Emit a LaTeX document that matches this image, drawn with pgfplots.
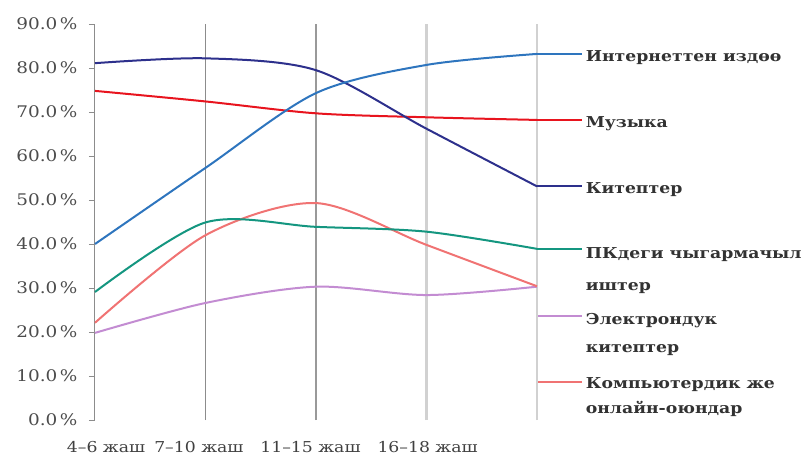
\documentclass[border=0pt]{standalone}
\usepackage{fontspec}
\setmainfont[FakeStretch=1.15]{DejaVu Serif}
\usepackage{pgfplots}
\pgfplotsset{compat=1.18}

\definecolor{cinet}{RGB}{46,117,190}
\definecolor{cbook}{RGB}{45,48,140}
\definecolor{cmus}{RGB}{232,20,30}
\definecolor{cpk}{RGB}{20,150,128}
\definecolor{cgame}{RGB}{240,115,115}
\definecolor{cebook}{RGB}{195,140,210}
\definecolor{ctxt}{RGB}{50,50,50}

\begin{document}
\begin{tikzpicture}
\useasboundingbox (-95bp,-39bp) rectangle (709bp,420bp);
\begin{axis}[
    scale only axis,
    width=442bp, height=396bp,
    xmin=0, xmax=4, ymin=0, ymax=90,
    clip=false,
    axis y line*=left,
    axis x line*=bottom,
    x axis line style={draw=none},
    y axis line style={-, draw=black!45, line width=1bp},
    ytick={0,10,...,90},
    ytick style={draw=black!45, line width=1bp},
    major tick length=6bp,
    tick align=outside,
    /pgf/number format/assume math mode=true,
    yticklabel={\pgfmathprintnumber[fixed,fixed zerofill,precision=1]{\tick}\,\%},
    yticklabel style={font=\fontsize{16bp}{19bp}\selectfont, text=black!70, xshift=-8bp},
    xtick={0.1,0.94,1.95,3.01},
    xticklabels={4–6 жаш, 7–10 жаш, 11–15 жаш, 16–18 жаш},
    xtick style={draw=none},
    xticklabel style={font=\fontsize{15bp}{18bp}\selectfont, text=black!75, yshift=-12bp},
    every axis plot/.append style={line width=2bp},
]
% vertical grid lines
\addplot[forget plot, black!45, line width=1.2bp] coordinates {(1,0)(1,90)};
\addplot[forget plot, black!40, line width=1.2bp] coordinates {(2,0)(2,90)};
\addplot[forget plot, black!18, line width=2.6bp] coordinates {(3,0)(3,90)};
\addplot[forget plot, black!18, line width=2.6bp] coordinates {(4,0)(4,90)};

% series
\addplot[cebook, smooth, tension=0.5] coordinates {(0,19.8)(1,26.6)(2,30.3)(3,28.4)(4,30.3)};
\addplot[cgame, smooth, tension=0.5] coordinates {(0,22.1)(1,42.0)(2,49.3)(3,39.8)(4,30.4)};
\addplot[cpk, smooth, tension=0.5] coordinates {(0,29.1)(1,44.9)(2,43.9)(3,42.8)(4,38.9)};
\addplot[cmus, smooth, tension=0.5] coordinates {(0,74.8)(1,72.4)(2,69.7)(3,68.8)(4,68.2)};
\addplot[cbook, smooth, tension=0.5] coordinates {(0,81.1)(1,82.2)(2,79.5)(3,66.2)(4,53.1)};
\addplot[cinet, smooth, tension=0.5] coordinates {(0,40.0)(1,57.3)(2,74.3)(3,80.7)(4,83.2)};

% legend leader lines
\addplot[cinet] coordinates {(4,83.2)(4.41,83.2)};
\addplot[cmus] coordinates {(4,68.2)(4.41,68.2)};
\addplot[cbook] coordinates {(4,53.1)(4.41,53.1)};
\addplot[cpk] coordinates {(4,38.9)(4.41,38.9)};
\addplot[cebook] coordinates {(4.01,23.6)(4.41,23.6)};
\addplot[cgame] coordinates {(4.01,8.6)(4.41,8.6)};

\begin{scope}[every node/.style={anchor=west, inner sep=0pt, text=ctxt,
    font=\fontsize{15bp}{18bp}\selectfont\bfseries}]
\node at (axis cs:4.44,82.3) {Интернеттен издөө};
\node at (axis cs:4.44,67.3) {Музыка};
\node at (axis cs:4.44,52.3) {Китептер};
\node at (axis cs:4.44,37.5) {ПКдеги чыгармачыл};
\node at (axis cs:4.44,30.0) {иштер};
\node at (axis cs:4.44,22.7) {Электрондук};
\node at (axis cs:4.44,15.9) {китептер};
\node at (axis cs:4.44,8.0) {Компьютердик же};
\node at (axis cs:4.44,2.5) {онлайн-оюндар};
\end{scope}
\end{axis}
\end{tikzpicture}
\end{document}
